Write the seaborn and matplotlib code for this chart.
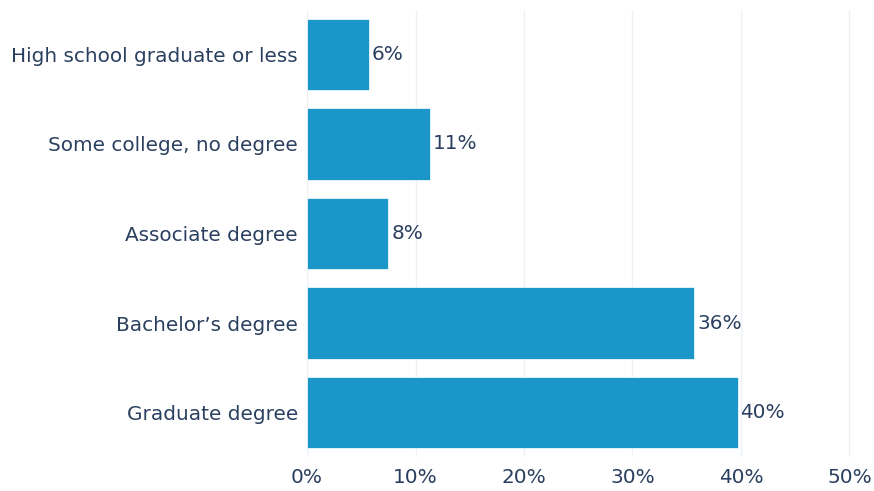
import numpy as np
import pandas as pd
import seaborn as sns
import matplotlib.pyplot as plt
from matplotlib.ticker import FuncFormatter

# values (percent)
categories = ['High school graduate or less', 'Some college, no degree',
              'Associate degree', 'Bachelor\u2019s degree', 'Graduate degree']
shares = [5.7, 11.3, 7.5, 35.7, 39.7]
xticks = [0, 10, 20, 30, 40, 50]

df = pd.DataFrame({'category': categories, 'share': shares})

sns.set_style('white')
plt.rcParams['font.family'] = ['DejaVu Sans']
text_col = '#2a3f5f'
fsize = 14.4

fig = plt.figure(figsize=(8.74, 4.91), dpi=100)
ax = fig.add_axes([0.3513, 0.0687, 0.633, 0.9115])

sns.barplot(data=df, x='share', y='category', orient='h', color='#1a96c9',
            saturation=1, width=0.8, edgecolor='white', linewidth=0.5, ax=ax, zorder=3)

labels = ax.bar_label(ax.containers[0], fmt='%.0f%%', padding=2, fontsize=fsize, color=text_col)
for t in labels:
    t.set_va('center')

ax.set_xlim(0, 51)
ax.set_xticks(xticks)
ax.xaxis.set_major_formatter(FuncFormatter(lambda v, p: f'{v:.0f}%'))
ax.grid(axis='x', color='#eef1f6', linewidth=1, zorder=0)
ax.set_xlabel('')
ax.set_ylabel('')
ax.tick_params(axis='both', length=0, labelsize=fsize, labelcolor=text_col)
ax.tick_params(axis='y', pad=6.5)
ax.tick_params(axis='x', pad=8)
for s in ax.spines.values():
    s.set_visible(False)

plt.savefig('out.png', dpi=100)
